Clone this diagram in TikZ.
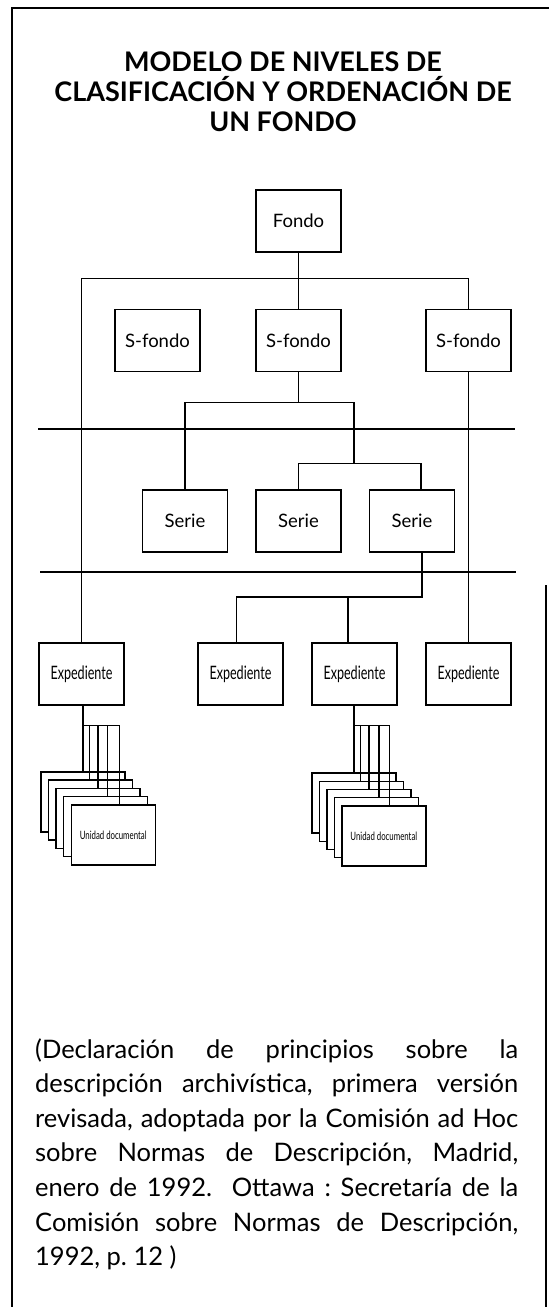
\documentclass[tikz,border=0pt]{standalone}
\usepackage{fontspec}
\setmainfont{Lato}
\newfontfamily\narrowfont[FakeStretch=0.68]{Lato}
\usetikzlibrary{positioning}

\begin{document}
\begin{tikzpicture}[
    x=1pt, y=-1pt,
    box/.style={draw, line width=1.5pt, minimum width=85pt, minimum height=62pt, inner sep=0pt, fill=white, font=\fontsize{18.5}{20}\selectfont},
    expbox/.style={box, font=\narrowfont\fontsize{18.5}{20}\selectfont},
    doc/.style={draw, line width=1.4pt, fill=white, minimum width=84pt, minimum height=60pt, inner sep=0pt},
    doctext/.style={font=\narrowfont\fontsize{11.5}{13}\selectfont},
    link/.style={line width=1.4pt},
    frame/.style={line width=2pt},
    title/.style={align=center, inner sep=0pt, font=\bfseries\fontsize{27}{30}\selectfont},
    caption/.style={text width=483pt, align=justify, inner sep=0pt, font=\fontsize{25.5}{34.6}\selectfont\frenchspacing}
]
\useasboundingbox (0,0) rectangle (549,1307);

% page frame
\draw[frame] (12,1307) -- (12,8) -- (549,8);
\draw[frame] (546,585) -- (546,1307);

\node[title] (heading) at (283,91.5) {MODELO DE NIVELES DE\\CLASIFICACIÓN Y ORDENACIÓN DE\\UN FONDO};

% levels
\node[box] (fondo) at (298.5,221) {Fondo};
\node[box, below=56pt of fondo] (sfondoB) {S-fondo};
\node[box, left=54.5pt of sfondoB] (sfondoA) {S-fondo};
\node[box, right=83.5pt of sfondoB] (sfondoC) {S-fondo};

\node[box, below=117pt of sfondoB] (serieB) {Serie};
\node[box, left=27pt of serieB] (serieA) {Serie};
\node[box, right=27pt of serieB] (serieC) {Serie};

\node[expbox, below=270pt of sfondoC] (expD) {Expediente};
\node[expbox, left=27.5pt of expD] (expC) {Expediente};
\node[expbox, left=27.5pt of expC] (expB) {Expediente};
\node[expbox, left=72.5pt of expB] (expA) {Expediente};

% stacks of documents
\foreach \i in {1,...,5}
  \node[doc] (docA\i) at (75.2+7.6*\i, 793.5+8.3*\i) {};
\node[doctext] at (docA5) {Unidad documental};
\foreach \i in {1,...,5}
  \node[doc] (docB\i) at (346.3+7.5*\i, 794.75+8.25*\i) {};
\node[doctext] at (docB5) {Unidad documental};

% separators
\draw[link] (38,429) -- (515,429);
\draw[link] (40,572) -- (516,572);

% connectors
\coordinate (busA) at ([yshift=-26pt]fondo.south);
\draw[link] (fondo.south) -- (sfondoB.north);
\draw[link] (expA.north) |- (busA) -| (sfondoC.north);
\draw[link] (sfondoC.south) -- (expD.north);

\coordinate (busB) at ([yshift=-30pt]sfondoB.south);
\coordinate (busC) at ([xshift=55.5pt,yshift=26pt]serieB.north);
\draw[link] (sfondoB.south) -- (busB);
\draw[link] (serieA.north) |- (busB) -| (busC);
\draw[link] (serieB.north) |- (busC) -| ([xshift=9pt]serieC.north);

\coordinate (busD) at (348,597);
\draw[link] ([xshift=10pt]serieC.south) |- (busD) -| ([xshift=-4pt]expB.north);
\draw[link] (busD) -- (busD |- expC.north);

\coordinate (busE) at ([yshift=-20pt]expA.south);
\draw[link] (docA1.north) -- (docA1.north |- expA.south);
\foreach \i/\dx in {2/-1,3/0,4/2,5/6}
  \draw[link] (docA1.north |- busE) -| ([xshift=\dx pt]docA\i.north);

\coordinate (busF) at ([yshift=-20pt]expC.south);
\draw[link] (docB1.north) -- (docB1.north |- expC.south);
\foreach \i/\dx in {2/-1,3/0,4/2.5,5/5.5}
  \draw[link] (docB1.north |- busF) -| ([xshift=\dx pt]docB\i.north);

\node[caption, anchor=base west] (source) at (35,1058) {(Declaración de principios sobre la\linebreak
descripción archivística, primera versión\linebreak
revisada, adoptada por la Comisión ad Hoc\linebreak
sobre Normas de Descripción, Madrid,\linebreak
enero de 1992.\ \ Ottawa : Secretaría de la\linebreak
Comisión sobre Normas de Descripción,\linebreak
1992,\ p. 12 )};
\end{tikzpicture}
\end{document}
